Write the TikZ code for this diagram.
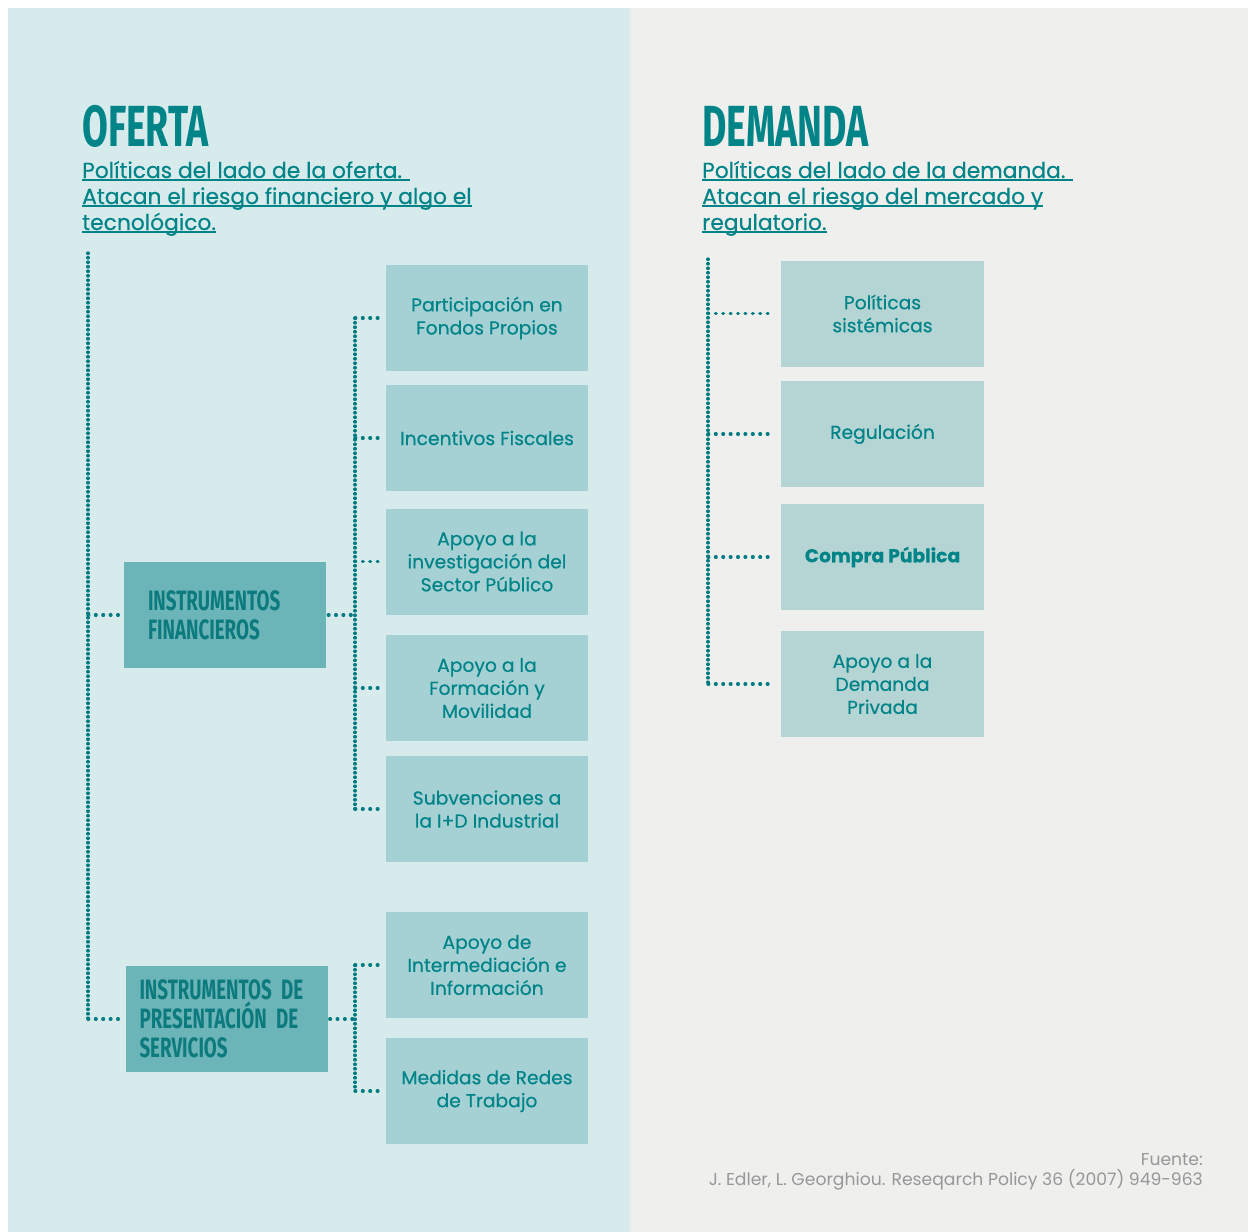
\documentclass[tikz,border=0pt]{standalone}
\usepackage{fontspec}
\setmainfont{Poppins}
\newfontfamily\boxfont[FakeBold=0.45]{Poppins}
\newfontfamily\headfont[FakeStretch=0.645]{Fira Sans}
\newfontfamily\groupfont[FakeStretch=0.67]{Fira Sans}
\usetikzlibrary{positioning}

\definecolor{ofertabg}{HTML}{D7EAEC}
\definecolor{demandabg}{HTML}{EFEFEE}
\definecolor{dividerc}{HTML}{E2ECEC}
\definecolor{ofertabox}{HTML}{A5D0D4}
\definecolor{groupbox}{HTML}{6BB5B8}
\definecolor{demandabox}{HTML}{B5D4D4}
\definecolor{tealtext}{HTML}{008488}
\definecolor{tealdark}{HTML}{0D7A7E}
\definecolor{dotteal}{HTML}{007C80}
\definecolor{sourcegray}{HTML}{979797}

\newcommand{\undl}[1]{\setbox0\hbox{#1}\rlap{\color{tealtext}\rule[-2.5bp]{\wd0}{1.4bp}}\box0}

\tikzset{
    title/.style={text=tealtext, inner sep=0pt, font=\headfont\bfseries\fontsize{58bp}{58bp}\selectfont},
    subtitle/.style={text=tealtext, inner sep=0pt, align=left, font=\boxfont\fontsize{21.8bp}{26bp}\selectfont},
    oferta box/.style={fill=ofertabox, minimum width=202bp, minimum height=106bp, inner sep=0pt,
        align=center, text=tealtext, font=\boxfont\fontsize{18.7bp}{23bp}\selectfont},
    demanda box/.style={oferta box, fill=demandabox, minimum width=203bp},
    group box/.style={fill=groupbox, minimum width=202bp, minimum height=106bp, inner sep=0pt,
        align=left, text=tealdark, font=\groupfont\bfseries\fontsize{28bp}{29bp}\selectfont},
    dots/.style={draw=dotteal, line width=3.2bp, line cap=round, dash pattern=on 0.5bp off 4bp},
    tick dots/.style={dots, dash pattern=on 0.8bp off 6.6bp},
    source/.style={text=sourcegray, inner sep=0pt, font=\fontsize{17.2bp}{20bp}\selectfont}
}

\begin{document}
\begin{tikzpicture}[x=1bp, y=-1bp]

    \useasboundingbox (0,0) rectangle (1251,1232);
    \fill[ofertabg] (8,8) rectangle (629,1232);
    \fill[demandabg] (631,8) rectangle (1248,1232);
    \fill[dividerc] (629,8) rectangle (631,1232);

    \coordinate (oferta trunk) at (88,253);
    \coordinate (fin trunk) at (355,0);
    \coordinate (serv trunk) at (355,0);
    \coordinate (demanda trunk) at (708,259);

    \node[title, anchor=base west] (oferta) at (82,146) {OFERTA};
    \node[title, anchor=base west] (demanda) at (702,146) {DEMANDA};

    \node[subtitle, anchor=base west] (oferta sub) at (82,230)
    {\undl{Políticas del lado de la oferta. }\\\undl{Atacan el riesgo financiero y algo el}\\\undl{tecnológico.}};
    \node[subtitle, anchor=base west] (demanda sub) at (702,230)
    {\undl{Políticas del lado de la demanda. }\\\undl{Atacan el riesgo del mercado y}\\\undl{regulatorio.}};

    \node[group box, text width=154bp] (fin) at (225,615) {INSTRUMENTOS\\FINANCIEROS};
    \node[group box, text width=174bp] (serv) at (226.5,1019) {INSTRUMENTOS DE\\PRESENTACIÓN DE\\SERVICIOS};

    \foreach \y/\txt [count=\i] in {
        318/{Participación en\\Fondos Propios},
        438/{Incentivos Fiscales},
        561.5/{Apoyo a la\\investigación del\\Sector Público},
        688/{Apoyo a la\\Formación y\\Movilidad},
        809/{Subvenciones a\\la I+D Industrial},
        965/{Apoyo de\\Intermediación e\\Información},
        1091/{Medidas de Redes\\de Trabajo}}
    \node[oferta box] (oferta box \i) at (487,\y) {\txt};

    \foreach \y/\txt [count=\i] in {
        313.5/{Políticas\\sistémicas},
        434/{Regulación},
        557/{\bfseries Compra Pública},
        684/{Apoyo a la\\Demanda\\Privada}}
    \node[demanda box] (demanda box \i) at (882.5,\y) {\txt};

    \draw[dots] (oferta trunk) -- (oferta trunk |- serv.west);
    \draw[tick dots, shorten >=4bp] (oferta trunk |- fin.west) -- (fin.west);
    \draw[tick dots, shorten >=5bp] (oferta trunk |- serv.west) -- (serv.west);

    \draw[tick dots, shorten <=2bp] (fin.east) -- (fin.east -| fin trunk);
    \draw[dots] (fin trunk |- oferta box 1.west) -- (fin trunk |- oferta box 5.west);
    \foreach \i in {1,...,5}
    \draw[tick dots, shorten >=7bp] (fin trunk |- oferta box \i.west) -- (oferta box \i.west);

    \draw[tick dots, shorten <=2bp] (serv.east) -- (serv.east -| serv trunk);
    \draw[dots] (serv trunk |- oferta box 6.west) -- (serv trunk |- oferta box 7.west);
    \foreach \i in {6,7}
    \draw[tick dots, shorten >=7bp] (serv trunk |- oferta box \i.west) -- (oferta box \i.west);

    \draw[dots] (demanda trunk) -- (demanda trunk |- demanda box 4.west);
    \foreach \i in {1,...,4}
    \draw[tick dots, shorten >=9bp] (demanda trunk |- demanda box \i.west) -- (demanda box \i.west);

    \node[source, anchor=base east] (fuente) at (1203,1165) {Fuente:};
    \node[source, anchor=base east] (cita) at (1203,1185) {J. Edler, L. Georghiou. Reseqarch Policy 36 (2007) 949-963};

\end{tikzpicture}
\end{document}
